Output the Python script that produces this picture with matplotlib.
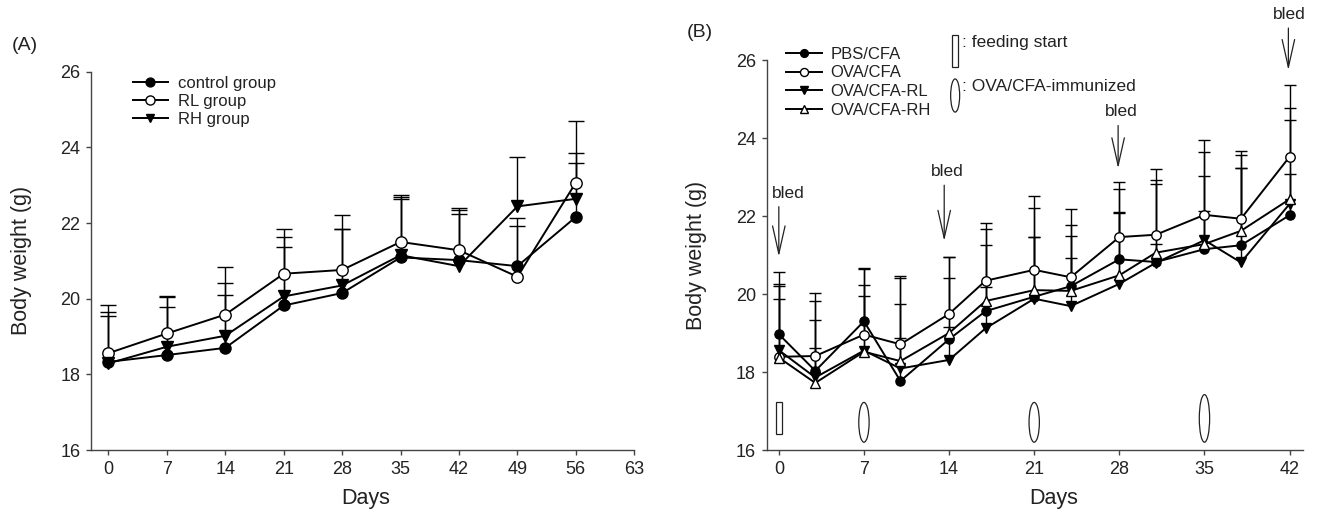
import numpy as np
import matplotlib
matplotlib.use('Agg')
import matplotlib.pyplot as plt
from matplotlib.patches import Ellipse, Rectangle

plt.rcParams['font.family'] = ['Liberation Sans', 'DejaVu Sans']
plt.rcParams['text.color'] = '#222222'
plt.rcParams['axes.labelcolor'] = '#222222'
plt.rcParams['xtick.color'] = '#444444'
plt.rcParams['ytick.color'] = '#444444'
plt.rcParams['xtick.labelcolor'] = '#222222'
plt.rcParams['ytick.labelcolor'] = '#222222'

# ---- panel A data ----
days_a = [0, 7, 14, 21, 28, 35, 42, 49, 56]
control = [18.33, 18.51, 18.70, 19.82, 20.15, 21.09, 21.02, 20.86, 22.16]
rl = [18.56, 19.08, 19.58, 20.66, 20.76, 21.50, 21.28, 20.58, 23.07]
rh = [18.29, 18.73, 19.02, 20.06, 20.35, 21.15, 20.86, 22.44, 22.64]
control_sd = [1.33, 1.26, 1.40, 1.54, 1.69, 1.55, 1.23, 1.26, 1.42]
rl_sd = [1.28, 0.98, 1.27, 1.17, 1.44, 1.23, 1.12, 1.34, 1.62]
rh_sd = [1.24, 1.32, 1.39, 1.58, 1.49, 1.54, 1.48, 1.30, 1.20]

# ---- panel B data ----
days_b = [0, 3, 7, 10, 14, 17, 21, 24, 28, 31, 35, 38, 42]
pbs = [18.97, 18.03, 19.30, 17.77, 18.84, 19.56, 19.93, 20.20, 20.89, 20.82, 21.15, 21.25, 22.02]
ova = [18.39, 18.41, 18.96, 18.71, 19.49, 20.34, 20.62, 20.43, 21.46, 21.52, 22.03, 21.93, 23.52]
ova_rl = [18.56, 17.86, 18.55, 18.09, 18.31, 19.12, 19.88, 19.69, 20.26, 20.80, 21.38, 20.81, 22.31]
ova_rh = [18.37, 17.72, 18.52, 18.28, 19.00, 19.82, 20.10, 20.08, 20.48, 21.06, 21.28, 21.62, 22.43]
pbs_sd = [1.60, 1.80, 1.37, 1.10, 1.58, 1.69, 1.52, 1.56, 1.81, 2.00, 0.97, 1.99, 1.06]
ova_sd = [1.81, 1.62, 1.67, 1.75, 1.47, 1.47, 1.90, 1.75, 1.41, 1.68, 1.91, 1.73, 1.85]
ova_rl_sd = [1.69, 1.47, 1.68, 1.65, 0.85, 1.05, 1.59, 1.23, 1.84, 0.47, 2.26, 2.43, 2.15]
ova_rh_sd = [1.51, 0.90, 1.43, 2.14, 1.95, 1.84, 2.10, 1.40, 1.61, 1.87, 1.74, 1.94, 2.34]

# blood sampling arrows (day, arrow tip, arrow length)
bled_days = [0, 13.6, 27.9, 41.9]
bled_tip = [20.96, 21.36, 23.22, 25.74]
bled_len = [1.28, 1.43, 1.10, 1.08]
bled_text_dx = [0.8, 0.25, 0.25, 0.05]
feeding_day = 0
immunized_days = [7, 21, 35]
immunized_h = [1.02, 1.02, 1.22]

fig = plt.figure(figsize=(13.2, 5.13), dpi=100)
ax_a = fig.add_axes([0.0689, 0.1228, 0.4116, 0.7374])
ax_b = fig.add_axes([0.5808, 0.1228, 0.4063, 0.7602])


def style_axes(ax):
    for s in ['top', 'right']:
        ax.spines[s].set_visible(False)
    for s in ['left', 'bottom']:
        ax.spines[s].set_color('#444444')
        ax.spines[s].set_linewidth(1.0)
    ax.tick_params(direction='out', length=3.6, width=1.0, labelsize=13, pad=4)
    ax.set_ylim(16, 26)
    ax.set_yticks([16, 18, 20, 22, 24, 26])


def series(ax, x, y, sd, marker, face, ms, cap):
    x = np.array(x)
    y = np.array(y)
    top = y + np.array(sd)
    ax.vlines(x, y, top, color='black', lw=1.0, zorder=1)
    ax.plot(x, top, ls='none', marker='_', ms=cap, mew=1.0, color='black', zorder=1)
    line, = ax.plot(x, y, color='black', lw=1.4, marker=marker, ms=ms,
                    mfc=face, mec='black', mew=1.0, zorder=3)
    return line


# ---- panel A ----
style_axes(ax_a)
ha = []
ha.append(series(ax_a, days_a, control, control_sd, 'o', 'black', 8, 12))
ha.append(series(ax_a, days_a, rl, rl_sd, 'o', 'white', 8.2, 12))
ha.append(series(ax_a, days_a, rh, rh_sd, 'v', 'black', 8, 12))
ax_a.set_xlim(-2.1, 63)
ax_a.set_xticks(range(0, 64, 7))
ax_a.set_xlabel('Days', fontsize=15.5)
ax_a.set_ylabel('Body weight (g)', fontsize=15.5)
ax_a.yaxis.set_label_coords(-0.109, 0.5)
ax_a.xaxis.set_label_coords(0.506, -0.100)
ax_a.legend(ha, ['control group', 'RL group', 'RH group'], loc='upper left',
            bbox_to_anchor=(0.077, 0.99), frameon=False, fontsize=12,
            handlelength=2.1, handletextpad=0.6, labelspacing=0.18,
            borderpad=0, borderaxespad=0, markerscale=0.8)

# ---- panel B ----
style_axes(ax_b)
hb = []
hb.append(series(ax_b, days_b, pbs, pbs_sd, 'o', 'black', 6.6, 8.5))
hb.append(series(ax_b, days_b, ova, ova_sd, 'o', 'white', 6.8, 8.5))
hb.append(series(ax_b, days_b, ova_rl, ova_rl_sd, 'v', 'black', 6.6, 8.5))
hb.append(series(ax_b, days_b, ova_rh, ova_rh_sd, '^', 'white', 6.8, 8.5))
ax_b.set_xlim(-1.0, 43.1)
ax_b.set_xticks(range(0, 43, 7))
ax_b.set_xlabel('Days', fontsize=15.5)
ax_b.set_ylabel('Body weight (g)', fontsize=15.5)
ax_b.yaxis.set_label_coords(-0.112, 0.5)
ax_b.xaxis.set_label_coords(0.535, -0.097)
ax_b.legend(hb, ['PBS/CFA', 'OVA/CFA', 'OVA/CFA-RL', 'OVA/CFA-RH'], loc='upper left',
            bbox_to_anchor=(0.0354, 1.034), frameon=False, fontsize=12,
            handlelength=2.2, handletextpad=0.5, labelspacing=0.22,
            borderpad=0, borderaxespad=0, markerscale=0.85)

# bled arrows
for d, tip, ln, dx in zip(bled_days, bled_tip, bled_len, bled_text_dx):
    ax_b.annotate('', xy=(d, tip), xytext=(d, tip + ln), annotation_clip=False,
                  arrowprops=dict(arrowstyle='->, head_length=2.0, head_width=0.45',
                                  color='#222222', lw=0.9, shrinkA=0, shrinkB=0,
                                  mutation_scale=10))
    ax_b.text(d + dx, tip + ln + 0.35, 'bled', ha='center', va='center',
              fontsize=12.5, clip_on=False)

# feeding start / immunization markers
ax_b.add_patch(Rectangle((feeding_day - 0.25, 16.4), 0.55, 0.82, fill=False,
                         ec='#222222', lw=0.9))
for d, h in zip(immunized_days, immunized_h):
    ax_b.add_patch(Ellipse((d, 16.2 + h / 2), 0.85, h, fill=False, ec='#222222', lw=0.9))

# key for the symbols above the plot
ax_b.add_patch(Rectangle((14.23, 25.82), 0.5, 0.82, fill=False, ec='#222222',
                         lw=0.9, clip_on=False))
ax_b.add_patch(Ellipse((14.5, 25.09), 0.74, 0.85, fill=False, ec='#222222',
                       lw=0.9, clip_on=False))
ax_b.text(15.1, 26.44, ': feeding start', ha='left', va='center', fontsize=12.5, clip_on=False)
ax_b.text(15.1, 25.31, ': OVA/CFA-immunized', ha='left', va='center', fontsize=12.5,
          clip_on=False)

fig.text(0.009, 0.912, '(A)', fontsize=14, ha='left', va='center')
fig.text(0.5205, 0.9357, '(B)', fontsize=14, ha='left', va='center')

fig.savefig('out.png', dpi=100)
